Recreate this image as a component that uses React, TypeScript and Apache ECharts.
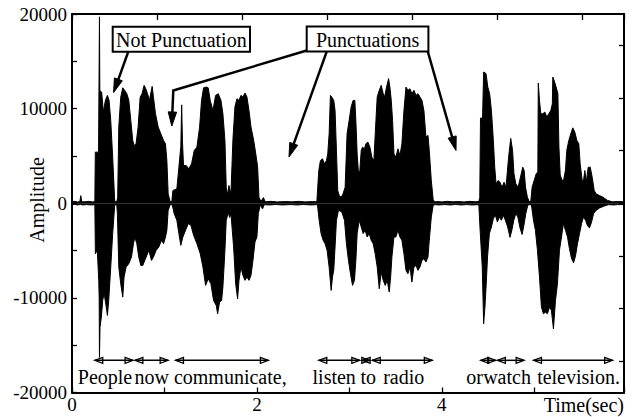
import React, { useEffect, useRef } from 'react';
import * as echarts from 'echarts';

const FONT = '"Liberation Serif", "Times New Roman", serif';

// Upper envelope of the speech waveform: [time (s), amplitude]
const upperEnvelope: [number, number][] = [
  [0, 150], [0.03, 200], [0.06, 130], [0.085, 180], [0.095, 800], [0.105, 170], [0.14, 150], [0.18, 200], [0.22, 140], [0.247, 170],
  [0.252, 5400], [0.287, 5400], [0.297, 19700], [0.301, 11900], [0.321, 11750], [0.339, 9640], [0.361, 10870], [0.383, 11400], [0.401, 10870], [0.419, 8750], [0.44, 4870], [0.462, 180], [0.484, 150],
  [0.494, 600], [0.506, 8050], [0.527, 11200], [0.549, 12200], [0.571, 11900], [0.592, 11600], [0.614, 10900], [0.636, 8750], [0.657, 6640], [0.672, 6100], [0.693, 6280], [0.715, 8050], [0.737, 11200], [0.758, 11600], [0.78, 12460], [0.798, 12100], [0.816, 11600], [0.838, 10900], [0.867, 12350], [0.881, 11200], [0.903, 9460], [0.932, 8050], [0.961, 7340], [0.99, 6640], [1.011, 6280], [1.026, 4520], [1.04, 990], [1.062, 170],
  [1.08, 180], [1.091, 1340], [1.134, 1520], [1.156, 3810], [1.177, 6000], [1.186, 10400], [1.195, 6500], [1.206, 4000], [1.235, 3990], [1.264, 3640], [1.293, 4170], [1.322, 5580], [1.351, 5930], [1.38, 8050], [1.401, 10870], [1.423, 12200], [1.452, 12280], [1.473, 12200], [1.495, 10870], [1.524, 9800], [1.553, 11400], [1.582, 11580], [1.611, 10870], [1.632, 9460], [1.654, 6640], [1.668, 1690], [1.683, 900], [1.697, 1870], [1.719, 990], [1.74, 6640], [1.762, 10170], [1.784, 11050], [1.806, 10870], [1.827, 11400], [1.849, 11230], [1.871, 11650], [1.892, 11230], [1.914, 9800], [1.936, 8050], [1.965, 6640], [1.993, 4870], [2.008, 3810], [2.022, 640], [2.044, 180],
  [2.07, 600], [2.09, 150], [2.15, 200], [2.22, 140], [2.3, 180], [2.38, 150], [2.45, 200], [2.52, 140], [2.6, 180], [2.648, 150],
  [2.655, 180], [2.669, 3460], [2.687, 4520], [2.709, 4700], [2.73, 4170], [2.752, 4520], [2.766, 5220], [2.781, 7340], [2.795, 11400], [2.809, 11230], [2.831, 10870], [2.845, 9800], [2.86, 5580], [2.874, 1340], [2.896, 640], [2.925, 810], [2.954, 1690], [2.975, 7340], [2.997, 8750], [3.019, 10170], [3.04, 10870], [3.059, 10870], [3.07, 8750], [3.084, 5220], [3.099, 3110], [3.113, 3460], [3.128, 5580], [3.142, 5930], [3.163, 5750], [3.178, 6280], [3.2, 6460], [3.222, 5930], [3.243, 4870], [3.265, 4520], [3.287, 8750], [3.301, 11230], [3.323, 11930], [3.344, 12460], [3.366, 11580], [3.381, 11230], [3.402, 12280], [3.424, 13170], [3.438, 12280], [3.453, 10870], [3.467, 8750], [3.482, 5220], [3.503, 4870], [3.525, 5750], [3.547, 5050], [3.568, 6280], [3.59, 9800], [3.612, 12280], [3.633, 11930], [3.655, 12100], [3.676, 11580], [3.698, 11930], [3.72, 11400], [3.742, 11580], [3.763, 11230], [3.785, 10870], [3.806, 9800], [3.828, 6990], [3.85, 7170], [3.864, 5580], [3.886, 2400], [3.907, 300], [3.929, 150],
  [3.96, 180], [4.0, 140], [4.06, 200], [4.12, 150], [4.18, 180], [4.24, 140], [4.3, 200], [4.36, 160], [4.4, 180],
  [4.41, 600], [4.418, 9000], [4.44, 9000], [4.452, 13870], [4.478, 13700], [4.497, 12280], [4.517, 11580], [4.536, 9800], [4.557, 6640], [4.572, 3810], [4.586, 2050], [4.608, 2400], [4.629, 2220], [4.651, 1690], [4.673, 2220], [4.694, 1690], [4.722, 4870], [4.745, 6850], [4.765, 5580], [4.78, 3110], [4.8, 2050], [4.825, 1690], [4.85, 2750], [4.875, 3810], [4.89, 3460], [4.905, 1690], [4.925, 640], [4.945, 180],
  [4.962, 180], [4.976, 1690], [4.998, 2400], [5.02, 3110], [5.038, 3300], [5.043, 12700], [5.056, 10870], [5.07, 9460], [5.092, 9460], [5.114, 9640], [5.135, 9110], [5.157, 9460], [5.178, 9800], [5.195, 10500], [5.2, 13340], [5.214, 12990], [5.236, 12280], [5.255, 11580], [5.266, 6000], [5.28, 3000], [5.3, 2400], [5.318, 2500], [5.337, 3500], [5.351, 5580], [5.373, 6640], [5.395, 7340], [5.416, 7970], [5.438, 7520], [5.46, 6640], [5.481, 6280], [5.496, 4170], [5.518, 2400], [5.532, 2400], [5.547, 3460], [5.561, 2220], [5.583, 3810], [5.605, 3810], [5.626, 2750], [5.648, 1340], [5.67, 990], [5.706, 810], [5.742, 640], [5.792, 300], [5.846, 150], [5.9, 180], [5.97, 150],
];

// Lower envelope of the speech waveform: [time (s), amplitude]
const lowerEnvelope: [number, number][] = [
  [0, -150], [0.03, -120], [0.06, -180], [0.09, -130], [0.12, -180], [0.16, -140], [0.2, -180], [0.247, -150],
  [0.253, -5330], [0.274, -4980], [0.289, -8150], [0.294, -10000], [0.297, -16300], [0.303, -13100], [0.318, -12000], [0.332, -10270], [0.347, -9500], [0.368, -10800], [0.383, -11860], [0.397, -10270], [0.419, -6740], [0.44, -3210], [0.462, -180], [0.484, -150],
  [0.491, -1100], [0.506, -6740], [0.527, -8500], [0.549, -9920], [0.563, -7800], [0.585, -6740], [0.614, -6390], [0.643, -5680], [0.665, -4270], [0.679, -3570], [0.701, -4270], [0.722, -5680], [0.744, -6570], [0.766, -6570], [0.787, -6040], [0.809, -5510], [0.831, -4980], [0.86, -6040], [0.881, -5680], [0.91, -4980], [0.939, -4620], [0.968, -3920], [0.99, -4270], [1.011, -3570], [1.026, -2860], [1.04, -740], [1.062, -150],
  [1.084, -150], [1.105, -1100], [1.134, -1800], [1.156, -3210], [1.177, -4450], [1.199, -3570], [1.228, -2860], [1.257, -2150], [1.286, -2330], [1.315, -3390], [1.351, -4270], [1.387, -5330], [1.416, -6740], [1.445, -8680], [1.473, -7980], [1.502, -8500], [1.531, -10270], [1.56, -10800], [1.575, -11680], [1.596, -10450], [1.618, -10270], [1.632, -8860], [1.654, -4980], [1.668, -1800], [1.69, -1000], [1.705, -1500], [1.719, -1100], [1.748, -4620], [1.77, -8500], [1.791, -10100], [1.806, -8150], [1.827, -6740], [1.849, -7620], [1.871, -8150], [1.892, -7800], [1.914, -8150], [1.936, -7620], [1.957, -6040], [1.979, -4100], [2.0, -3570], [2.015, -1100], [2.037, -150],
  [2.06, -600], [2.08, -150], [2.14, -180], [2.2, -130], [2.28, -180], [2.36, -140], [2.44, -180], [2.5, -130], [2.58, -180], [2.645, -150],
  [2.655, -180], [2.673, -1800], [2.694, -3210], [2.716, -3920], [2.737, -4270], [2.759, -4980], [2.781, -6740], [2.803, -9210], [2.817, -7800], [2.831, -7090], [2.845, -4620], [2.86, -1800], [2.882, -740], [2.918, -920], [2.947, -1800], [2.968, -4270], [2.99, -6040], [3.012, -7450], [3.034, -8680], [3.055, -8150], [3.07, -6040], [3.084, -3210], [3.106, -1800], [3.128, -2510], [3.149, -3210], [3.171, -2860], [3.192, -3570], [3.214, -3210], [3.236, -3920], [3.257, -4270], [3.279, -5330], [3.301, -6740], [3.323, -9040], [3.344, -7270], [3.366, -8150], [3.388, -8680], [3.409, -8150], [3.431, -9390], [3.446, -7800], [3.46, -5680], [3.482, -3570], [3.503, -3570], [3.525, -2860], [3.547, -3570], [3.568, -3920], [3.59, -5330], [3.612, -7090], [3.633, -7450], [3.655, -6740], [3.676, -8330], [3.698, -6740], [3.72, -6570], [3.742, -7090], [3.763, -6740], [3.785, -6040], [3.806, -5860], [3.828, -6210], [3.85, -5680], [3.864, -3920], [3.886, -1450], [3.907, -180], [3.929, -150],
  [3.97, -180], [4.03, -140], [4.09, -180], [4.15, -130], [4.21, -180], [4.27, -140], [4.33, -180], [4.4, -150],
  [4.412, -2510], [4.437, -6740], [4.452, -12740], [4.466, -10980], [4.48, -8510], [4.494, -5680], [4.514, -3210], [4.536, -2510], [4.557, -1620], [4.579, -1270], [4.601, -1980], [4.622, -1450], [4.644, -1800], [4.665, -1270], [4.687, -1800], [4.712, -2510], [4.737, -3600], [4.757, -2860], [4.778, -1800], [4.8, -1090], [4.822, -1450], [4.845, -2600], [4.868, -3300], [4.888, -2300], [4.908, -1090], [4.93, -180], [4.95, -150],
  [4.969, -180], [4.991, -1800], [5.012, -2860], [5.034, -4980], [5.056, -7800], [5.077, -10980], [5.099, -11680], [5.12, -11510], [5.142, -11680], [5.164, -10980], [5.185, -11330], [5.207, -13270], [5.229, -10270], [5.25, -8510], [5.272, -4980], [5.294, -3570], [5.315, -2150], [5.337, -2860], [5.359, -3570], [5.38, -4800], [5.402, -5800], [5.424, -6300], [5.445, -5600], [5.467, -4270], [5.489, -3210], [5.511, -2150], [5.532, -1450], [5.554, -1800], [5.576, -2400], [5.597, -2600], [5.619, -2000], [5.641, -1090], [5.67, -740], [5.706, -500], [5.756, -300], [5.8, -150], [5.86, -180], [5.9, -140], [5.97, -150],
];

// Word spans below the waveform: [start (s), end (s)]
const wordSpans: [number, number][] = [
  [0.246, 0.661], [0.68, 1.04], [1.119, 2.124],
  [2.669, 3.113], [3.138, 3.221], [3.247, 3.897],
  [4.42, 4.583], [4.6, 4.89], [4.991, 5.847],
];
const wordLabels = ['People', 'now', 'communicate,', 'listen', 'to', 'radio', 'or', 'watch', 'television.'];
const calloutLabels = ['Not Punctuation', 'Punctuations'];
const yAxisTitle = 'Amplitude';
const xAxisTitle = 'Time(sec)';

const ARROW_LEVEL = -16600;

function headPoints(from: number[], tip: number[], L = 14, W = 4.2) {
  const dx = tip[0] - from[0];
  const dy = tip[1] - from[1];
  const len = Math.sqrt(dx * dx + dy * dy) || 1;
  const ux = dx / len, uy = dy / len;
  const bx = tip[0] - ux * L, by = tip[1] - uy * L;
  const nx = -uy, ny = ux;
  return {
    base: [bx, by],
    pts: [[tip[0], tip[1]], [bx + nx * W, by + ny * W], [bx - nx * W, by - ny * W]],
  };
}

export default function App() {
  const ref = useRef<HTMLDivElement>(null);
  useEffect(() => {
    if (!ref.current) return;
    const chart = echarts.init(ref.current, undefined, { renderer: 'svg' });

    // callout arrows (layout, pixels)
    const arrowPaths: number[][][] = [
      [[128.3, 51.7], [113.6, 92.5]],
      [[306.7, 50.5], [173.3, 90.5], [171.8, 126]],
      [[326.7, 51.7], [289, 157]],
      [[427.5, 50.5], [456, 150.5]],
    ];
    const arrowEls: any[] = [];
    arrowPaths.forEach((p) => {
      const tip = p[p.length - 1];
      const prev = p[p.length - 2];
      const h = headPoints(prev, tip);
      const pts = p.slice(0, p.length - 1).concat([h.base]);
      arrowEls.push({
        type: 'polyline',
        shape: { points: pts },
        style: { stroke: '#000', lineWidth: 2.5, fill: 'none' },
        z: 100,
      });
      arrowEls.push({
        type: 'polygon',
        shape: { points: h.pts },
        style: { fill: '#000', stroke: '#000', lineWidth: 1 },
        z: 100,
      });
    });

    const boxes = [
      { x: 112.7, y: 26.7, w: 137.3, h: 25, label: calloutLabels[0] },
      { x: 306.7, y: 26.5, w: 121.7, h: 25, label: calloutLabels[1] },
    ];
    const boxEls: any[] = [];
    boxes.forEach((b) => {
      boxEls.push({
        type: 'rect',
        shape: { x: b.x, y: b.y, width: b.w, height: b.h },
        style: { fill: '#fff', stroke: '#000', lineWidth: 2 },
        z: 101,
      });
      boxEls.push({
        type: 'text',
        x: b.x + b.w / 2,
        y: b.y + b.h / 2 + 0.5,
        style: {
          text: b.label, fill: '#000', font: `20px ${FONT}`,
          align: 'center', verticalAlign: 'middle', textAlign: 'center', textVerticalAlign: 'middle',
        },
        z: 102,
      });
    });

    const wordCenters = [105, 151.7, 230.3, 334.2, 368.3, 403.7, 474.5, 507, 578.5];
    const wordEls = wordLabels.map((w, i) => ({
      type: 'text',
      x: wordCenters[i],
      y: 377,
      style: {
        text: w, fill: '#000', font: `20px ${FONT}`,
        align: 'center', verticalAlign: 'middle', textAlign: 'center', textVerticalAlign: 'middle',
      },
      z: 100,
    }));

    const titleEls = [
      {
        type: 'text',
        x: 37,
        y: 200,
        rotation: Math.PI / 2,
        style: {
          text: yAxisTitle, fill: '#000', font: `20px ${FONT}`,
          align: 'center', verticalAlign: 'middle', textAlign: 'center', textVerticalAlign: 'middle',
        },
        z: 100,
      },
      {
        type: 'text',
        x: 624,
        y: 405,
        style: {
          text: xAxisTitle, fill: '#000', font: `20px ${FONT}`,
          align: 'right', verticalAlign: 'middle', textAlign: 'right', textVerticalAlign: 'middle',
        },
        z: 100,
      },
    ];

    const axisLine = { show: true, onZero: false, lineStyle: { color: '#000', width: 2 } };
    const tickStyle = { color: '#000', width: 1.3 };

    chart.setOption({
      animation: false,
      backgroundColor: '#fff',
      grid: { left: 72, right: 10, top: 14, bottom: 24.5, containLabel: false, outerBoundsMode: 'none' },
      xAxis: [
        {
          type: 'value', position: 'bottom', min: 0, max: 5.97, interval: 1,
          axisLine, axisTick: { show: true, inside: true, length: 5, lineStyle: tickStyle },
          axisLabel: {
            color: '#000', fontFamily: FONT, fontSize: 19, margin: 2,
            formatter: (v: number) => (Math.abs(v % 2) < 1e-9 ? String(v) : ''),
          },
          splitLine: { show: false },
        },
        {
          type: 'value', position: 'top', min: 0, max: 6.49, interval: 1,
          axisLine, axisTick: { show: true, inside: true, length: 6, lineStyle: tickStyle },
          axisLabel: { show: false }, splitLine: { show: false },
        },
      ],
      yAxis: [
        {
          type: 'value', position: 'left', min: -20000, max: 20000, interval: 5000,
          axisLine, axisTick: { show: true, inside: true, length: 5, lineStyle: tickStyle },
          axisLabel: {
            color: '#000', fontFamily: FONT, fontSize: 19, margin: 5,
            formatter: (v: number) => (Math.abs(v % 10000) < 1e-9 ? String(v) : ''),
          },
          splitLine: { show: false },
        },
        {
          type: 'value', position: 'right', min: -3.6, max: 3.6,
          axisLine,
          axisTick: { show: true, inside: true, length: 5, lineStyle: tickStyle, customValues: [-3, -2, -1, 0, 1, 2, 3] },
          axisLabel: { show: false }, splitLine: { show: false },
        },
      ],
      series: [
        {
          type: 'line', xAxisIndex: 0, yAxisIndex: 0, data: upperEnvelope,
          symbol: 'none', showSymbol: false,
          lineStyle: { color: '#000', width: 1 },
          areaStyle: { color: '#000', opacity: 1 },
          z: 2,
        },
        {
          type: 'line', xAxisIndex: 0, yAxisIndex: 0, data: lowerEnvelope,
          symbol: 'none', showSymbol: false,
          lineStyle: { color: '#000', width: 1 },
          areaStyle: { color: '#000', opacity: 1 },
          z: 2,
        },
        {
          type: 'custom', xAxisIndex: 0, yAxisIndex: 0, data: wordSpans,
          encode: { x: [0, 1] },
          clip: false,
          renderItem: (params: any, api: any) => {
            const s = api.coord([api.value(0), ARROW_LEVEL]);
            const e = api.coord([api.value(1), ARROW_LEVEL]);
            const y = s[1];
            const L = 8, H = 3;
            return {
              type: 'group',
              children: [
                { type: 'line', shape: { x1: s[0], y1: y, x2: e[0], y2: y }, style: { stroke: '#000', lineWidth: 1.5 } },
                { type: 'polygon', shape: { points: [[s[0], y], [s[0] + L, y - H], [s[0] + L, y + H]] }, style: { fill: 'none', stroke: '#000', lineWidth: 1.3 } },
                { type: 'polygon', shape: { points: [[e[0], y], [e[0] - L, y - H], [e[0] - L, y + H]] }, style: { fill: 'none', stroke: '#000', lineWidth: 1.3 } },
              ],
            };
          },
          z: 5,
        },
      ],
      graphic: [...arrowEls, ...boxEls, ...wordEls, ...titleEls],
    });
    return () => chart.dispose();
  }, []);
  return <div ref={ref} style={{ position: 'absolute', left: 0, top: 0, width: 634, height: 417 }} />;
}
